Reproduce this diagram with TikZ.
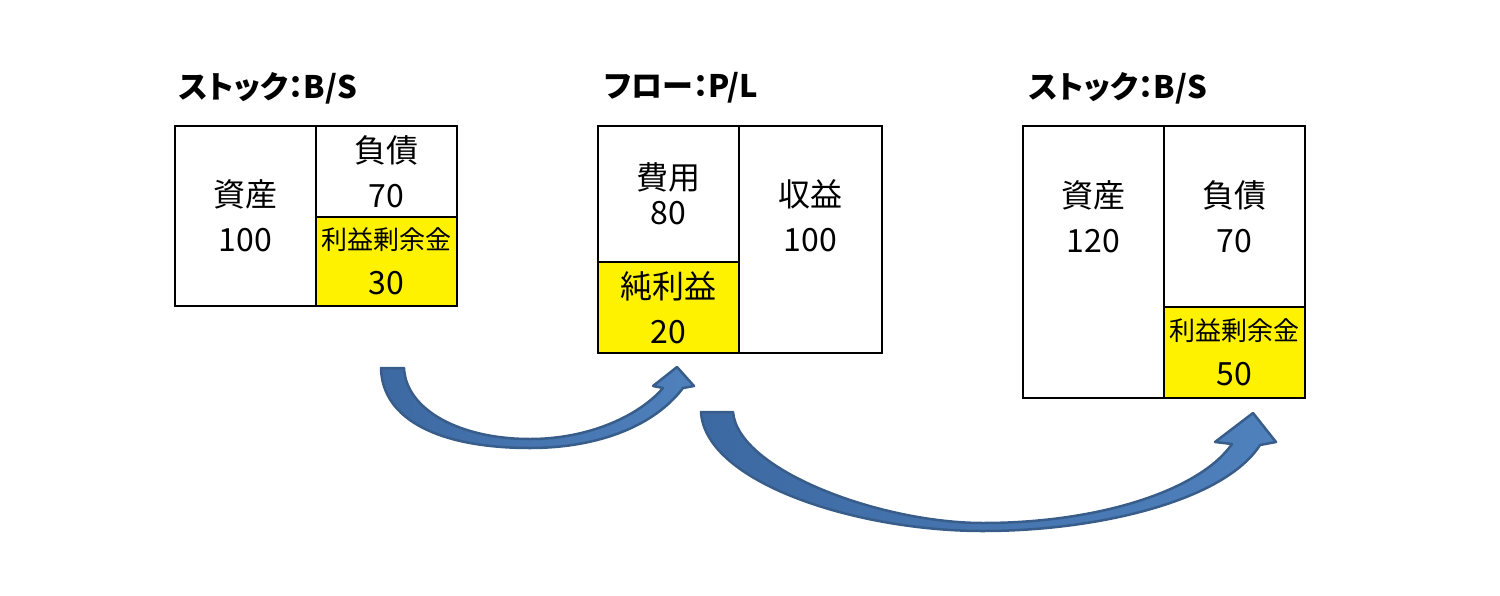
\documentclass[tikz,border=0pt]{standalone}
\usepackage{fontspec}
\setmainfont{Noto Sans CJK JP}
\newfontfamily\jp[RawFeature=+palt]{Noto Sans CJK JP}
\usetikzlibrary{positioning}
\definecolor{arrowblue}{HTML}{4F81BD}
\definecolor{arrowdark}{HTML}{3D69A2}
\definecolor{arrowline}{HTML}{385D8A}

\begin{document}
\begin{tikzpicture}[x=0.5pt,y=-0.5pt,every node/.style={cell},
				cell/.style={draw,rectangle,line width=1.4pt,outer sep=0pt,inner sep=0pt,align=center,node distance=0pt,font=\fontsize{16}{22.5}\selectfont},
				retained/.style={cell,fill=yellow},
				title/.style={draw=none,anchor=west,font=\jp\bfseries\fontsize{15.5}{18}\selectfont},
				plain/.style={draw=none,align=center,font=\fontsize{16}{22.5}\selectfont},
				bigarrow/.style={left color=arrowdark,right color=arrowblue,draw=arrowline,line width=1.25pt,line join=round}]
				\useasboundingbox (0,0) rectangle (1500,595);
				% B/S before
				\node (ASSET1) [minimum width=70.5pt,minimum height=90pt,anchor=north west] at (175,126) {資産\\100};
				\node (DEBT1)  [minimum width=70.5pt,minimum height=45.5pt,below right=of ASSET1.north east] {負債\\70};
				\node (RE1)    [retained,minimum width=70.5pt,minimum height=44.5pt,below=of DEBT1] {{\fontsize{13}{22.5}\selectfont 利益剰余金}\\30};
				% P/L
				\node (COST)   [minimum width=70.5pt,minimum height=68pt,anchor=north west] at (598,126) {費用\\[-5pt]80};
				\node (PROFIT) [retained,minimum width=70.5pt,minimum height=45.5pt,below=of COST] {純利益\\20};
				\node (REV)    [minimum width=71.5pt,minimum height=113.5pt,below right=of COST.north east] {};
				\node (REVTXT) [plain] at (REV |- ASSET1) {収益\\100};
				% B/S after
				\node (ASSET2) [minimum width=70.5pt,minimum height=136pt,anchor=north west] at (1023,126) {};
				\node (DEBT2)  [minimum width=70.5pt,minimum height=90.5pt,below right=of ASSET2.north east] {負債\\70};
				\node (RE2)    [retained,minimum width=70.5pt,minimum height=45.5pt,below=of DEBT2] {{\fontsize{13}{22.5}\selectfont 利益剰余金}\\50};
				\node (ASSETTXT) [plain] at (ASSET2 |- DEBT2) {資産\\120};
				
				\node (STOCK1) [title] at ([shift={(4,-38)}]ASSET1.north west) {ストック：B/S};
				\node (FLOW)   [title] at ([shift={(6,-38)}]COST.north west)   {フロー：P/L};
				\node (STOCK2) [title] at ([shift={(6,-38)}]ASSET2.north west) {ストック：B/S};
				
				\path[bigarrow] (381,368) -- (404,368) .. controls (406,410) and (460,439) .. (530,439)
					.. controls (590,439) and (640,415) .. (663,388) -- (653,386) -- (677,367) -- (694,386) -- (683,388)
					.. controls (655,425) and (600,448) .. (530,448) .. controls (440,448) and (382,420) .. (381,368) -- cycle;
				\path[bigarrow] (701,412) -- (733,412) .. controls (738,470) and (880,523) .. (983,523)
					.. controls (1100,523) and (1200,490) .. (1232,444) -- (1215,442) -- (1253,413) -- (1276,442) -- (1260,445)
					.. controls (1225,500) and (1100,531) .. (983,531) .. controls (855,531) and (705,482) .. (701,412) -- cycle;
			\end{tikzpicture}
\end{document}
